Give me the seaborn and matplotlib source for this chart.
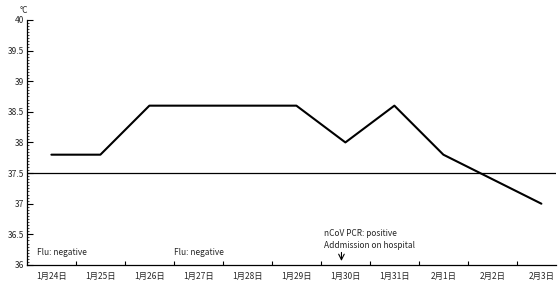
import numpy as np
import pandas as pd
import seaborn as sns
import matplotlib.pyplot as plt
from matplotlib.ticker import MultipleLocator, FixedLocator

# dados
dates = ["1月24日", "1月25日", "1月26日", "1月27日", "1月28日", "1月29日",
         "1月30日", "1月31日", "2月1日", "2月2日", "2月3日"]
temps = [37.8, 37.8, 38.6, 38.6, 38.6, 38.6, 38.0, 38.6, 37.8, 37.4, 37.0]
y_ticks = [36, 36.5, 37, 37.5, 38, 38.5, 39, 39.5, 40]
threshold = 37.5

df = pd.DataFrame({"idx": range(len(dates)), "temp": temps})

sns.set_style("white")
plt.rcParams["font.family"] = ["Noto Sans CJK JP", "DejaVu Sans"]

fig = plt.figure(figsize=(5.6, 2.84), dpi=100)
ax = fig.add_axes([0.048, 0.067, 0.945, 0.863])

sns.lineplot(data=df, x="idx", y="temp", color="black", linewidth=1.5, ax=ax)
ax.axhline(threshold, color="black", linewidth=0.9)

ax.set_xlim(-0.5, 10.3)
ax.set_ylim(36, 40)
ax.set_yticks(y_ticks)
ax.set_yticklabels([f"{v:g}" for v in y_ticks], fontsize=6)
ax.yaxis.set_minor_locator(MultipleLocator(0.05))
ax.tick_params(axis="y", which="both", left=True, direction="in", color="black")
ax.tick_params(axis="y", which="major", length=4, width=0.8, pad=2)
ax.tick_params(axis="y", which="minor", length=1.5, width=0.5)

ax.xaxis.set_major_locator(FixedLocator(np.arange(len(dates)) + 0.5))
ax.xaxis.set_minor_locator(FixedLocator(np.arange(len(dates))))
ax.set_xticklabels([])
ax.set_xticklabels(dates, minor=True, fontsize=6)
ax.tick_params(axis="x", which="major", bottom=True, direction="in",
               length=3, width=0.8, color="black")
ax.tick_params(axis="x", which="minor", bottom=True, length=0, pad=5)

ax.set_xlabel("")
ax.set_ylabel("")
for s in ["top", "right"]:
    ax.spines[s].set_visible(False)
for s in ["left", "bottom"]:
    ax.spines[s].set_color("black")
    ax.spines[s].set_linewidth(0.9)

fig.text(0.035, 0.955, "°C", fontsize=6)
ax.text(-0.3, 36.16, "Flu: negative", fontsize=6)
ax.text(2.5, 36.16, "Flu: negative", fontsize=6)
ax.text(5.57, 36.47, "nCoV PCR: positive", fontsize=6)
ax.text(5.57, 36.28, "Addmission on hospital", fontsize=6)
ax.annotate("", xy=(5.92, 36.02), xytext=(5.92, 36.25),
            arrowprops=dict(arrowstyle="->", color="black", lw=0.8))

plt.savefig("out.png", dpi=100)
